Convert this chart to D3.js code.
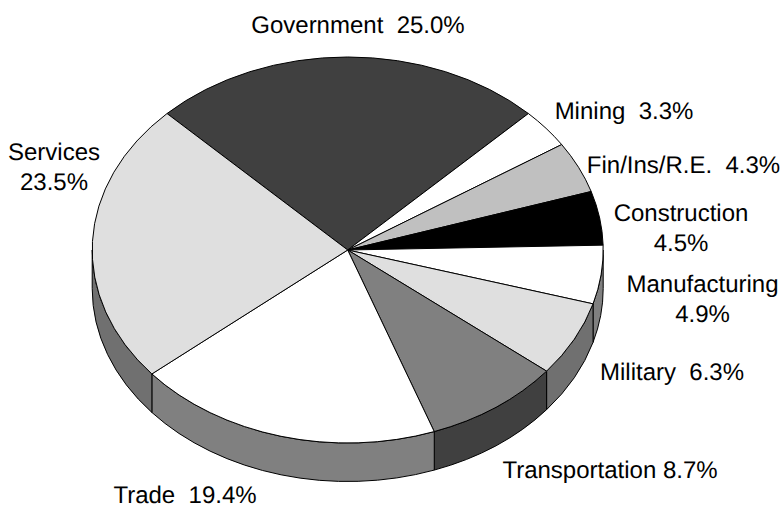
<!DOCTYPE html>
<html><head><meta charset="utf-8">
<script src="https://cdn.jsdelivr.net/npm/d3@7"></script>
<style>html,body{margin:0;padding:0;background:#fff}svg{display:block}
text{font-family:"Liberation Sans",Arial,sans-serif;font-size:24px;fill:#000;white-space:pre;text-rendering:geometricPrecision}</style>
</head><body><svg id="c" width="783" height="508"></svg>
<script>
const categories = ["Government","Mining","Fin/Ins/R.E.","Construction","Manufacturing","Military","Transportation","Trade","Services"];
const shares = [25.0,3.3,4.3,4.5,4.9,6.3,8.7,19.4,23.5];
const labelLines = [
  ["Government  25.0%"],["Mining  3.3%"],["Fin/Ins/R.E.  4.3%"],["Construction","4.5%"],
  ["Manufacturing","4.9%"],["Military  6.3%"],["Transportation 8.7%"],["Trade  19.4%"],["Services","23.5%"]
];

const topFill  = ["#404040","#ffffff","#c0c0c0","#000000","#ffffff","#dfdfdf","#808080","#ffffff","#dfdfdf"];
const sideFill = ["#202020","#808080","#606060","#000000","#808080","#707070","#404040","#808080","#707070"];
// label centre x and first baseline y, in page pixels
const labelX = [358,624,683.5,681,702.5,672,610,185,54];
const labelY = [33,119,173,221,292,380,478,502.8,160];
const lineGap = 29.5;

const W=783,H=508,cx=347.7,cy=250,rx=255.5,ry=193,depth=38.5;
const svg=d3.select("#c");
const sx=d3.scaleLinear().domain([-1,1]).range([cx-rx,cx+rx]);
const sy=d3.scaleLinear().domain([-1,1]).range([cy-ry,cy+ry]);
const px=a=>sx(Math.sin(a)), py=a=>sy(-Math.cos(a));
const f=n=>n.toFixed(2);

const start=-Math.PI/4;
const arcs=d3.pie().sort(null).value(d=>d).startAngle(start)
  .endAngle(start+2*Math.PI*d3.sum(shares)/100)(shares);
// the rounded shares add up to 99.9: the last slice closes the circle
arcs[arcs.length-1].endAngle=start+2*Math.PI;

// side wall: clip each slice to the front half (90deg..270deg)
const lo=Math.PI/2, hi=3*Math.PI/2;
const sides=[];
arcs.forEach((d,i)=>{
  const a0=Math.max(d.startAngle,lo), a1=Math.min(d.endAngle,hi);
  if(a1>a0) sides.push({i,a0,a1});
});
svg.append("g").selectAll("path").data(sides).join("path")
  .attr("d",d=>{
    const large=(d.a1-d.a0)>Math.PI?1:0;
    return `M${f(px(d.a0))},${f(py(d.a0))}A${rx},${ry} 0 ${large} 1 ${f(px(d.a1))},${f(py(d.a1))}`+
      `L${f(px(d.a1))},${f(py(d.a1)+depth)}A${rx},${ry} 0 ${large} 0 ${f(px(d.a0))},${f(py(d.a0)+depth)}Z`;
  })
  .attr("fill",d=>sideFill[d.i]).attr("stroke","#000").attr("stroke-width",1).attr("stroke-linejoin","round");

svg.append("g").selectAll("path").data(arcs).join("path")
  .attr("d",d=>{
    const large=(d.endAngle-d.startAngle)>Math.PI?1:0;
    return `M${f(cx)},${f(cy)}L${f(px(d.startAngle))},${f(py(d.startAngle))}`+
      `A${rx},${ry} 0 ${large} 1 ${f(px(d.endAngle))},${f(py(d.endAngle))}Z`;
  })
  .attr("fill",(d,i)=>topFill[i]).attr("stroke","#000").attr("stroke-width",1).attr("stroke-linejoin","round");

const lab=svg.append("g").selectAll("text").data(categories).join("text")
  .attr("text-anchor","middle").attr("xml:space","preserve");
lab.each(function(d,i){
  d3.select(this).selectAll("tspan").data(labelLines[i]).join("tspan")
    .attr("x",labelX[i]).attr("y",(t,j)=>labelY[i]+j*lineGap).text(t=>t);
});
</script></body></html>
